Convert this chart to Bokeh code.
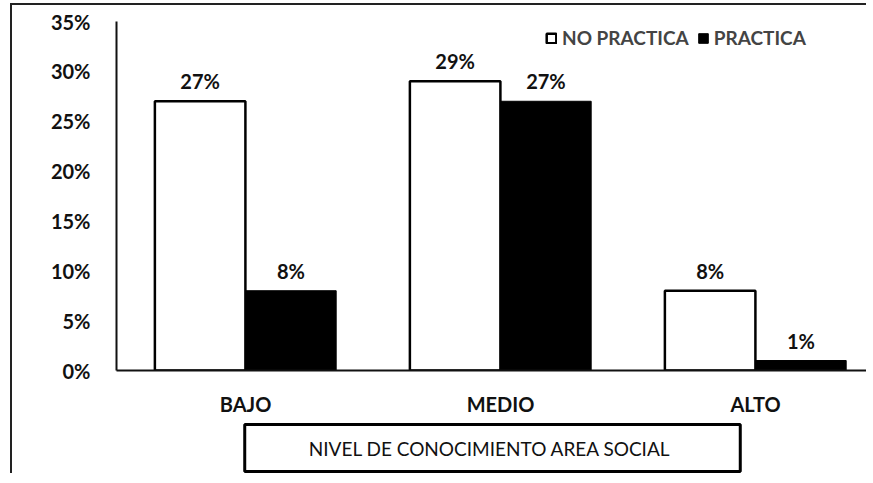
from bokeh.plotting import figure
from bokeh.models import ColumnDataSource, LabelSet, Title, Legend, LegendItem, FixedTicker
from bokeh.transform import dodge
from bokeh.core.properties import value
from bokeh.embed import file_html
from bokeh.resources import INLINE

categories = ["BAJO", "MEDIO", "ALTO"]
no_practica = [0.27, 0.29, 0.08]
practica = [0.08, 0.27, 0.01]
y_ticks = [0, 0.05, 0.10, 0.15, 0.20, 0.25, 0.30, 0.35]
y_tick_labels = ["0%", "5%", "10%", "15%", "20%", "25%", "30%", "35%"]
x_title = "NIVEL  DE CONOCIMIENTO AREA SOCIAL"

FONT = "Lato"

src = ColumnDataSource(dict(
    x=list(range(len(categories))),
    no=no_practica,
    si=practica,
    no_lbl=[f"{round(v*100)}%" for v in no_practica],
    si_lbl=[f"{round(v*100)}%" for v in practica],
))

p = figure(width=856, height=470, output_backend="svg", toolbar_location=None,
           x_range=(-0.506, 2.443), y_range=(0, 0.35),
           min_border_left=104, min_border_right=0, min_border_top=16, min_border_bottom=20,
           background_fill_color="white", border_fill_color="white")
p.margin = (3, 0, 0, 10)
p.styles = {"border-left": "2px solid #222", "border-top": "2px solid #222"}
p.outline_line_color = None
p.grid.visible = False

w = 0.355
r1 = p.vbar(x=dodge("x", -0.178), top="no", width=w, source=src,
            fill_color="white", line_color="black", line_width=2.5)
r2 = p.vbar(x=dodge("x", 0.178), top="si", width=w, source=src,
            fill_color="black", line_color="black", line_width=1)

lbl_font = dict(text_font=value(FONT), text_font_style="bold", text_font_size="20px",
                text_align="center", text_baseline="bottom", text_color="#111")
p.add_layout(LabelSet(x=dodge("x", -0.178), y="no", text="no_lbl", source=src, y_offset=8, **lbl_font))
p.add_layout(LabelSet(x=dodge("x", 0.178), y="si", text="si_lbl", source=src, y_offset=8, **lbl_font))

# axes
p.yaxis.ticker = FixedTicker(ticks=y_ticks)
p.yaxis.major_label_overrides = {t: l for t, l in zip(y_ticks, y_tick_labels)}
p.yaxis.axis_line_width = 2
p.yaxis.axis_line_color = "#111"
p.yaxis.major_tick_line_color = None
p.yaxis.minor_tick_line_color = None
p.yaxis.major_label_standoff = 20
p.yaxis.major_label_text_font = FONT
p.yaxis.major_label_text_font_style = "bold"
p.yaxis.major_label_text_font_size = "20px"
p.yaxis.major_label_text_color = "#111"

p.xaxis.ticker = FixedTicker(ticks=list(range(len(categories))))
p.xaxis.major_label_overrides = {i: c for i, c in enumerate(categories)}
p.xaxis.axis_line_width = 2
p.xaxis.axis_line_color = "#111"
p.xaxis.major_tick_line_color = None
p.xaxis.minor_tick_line_color = None
p.xaxis.major_label_standoff = 15
p.xaxis.major_label_text_font = FONT
p.xaxis.major_label_text_font_style = "bold"
p.xaxis.major_label_text_font_size = "20px"
p.xaxis.major_label_text_color = "#111"

# x axis title in a box, below the axis
p.add_layout(Title(text=x_title, align="center", offset=4, standoff=8,
                   text_font=FONT, text_font_size="19px", text_font_style="normal",
                   text_color="#111",
                   border_line_color="black", border_line_width=3,
                   background_fill_color="white", padding=(64, 12)), "below")

legend = Legend(items=[LegendItem(label="NO PRACTICA", renderers=[r1]),
                       LegendItem(label="PRACTICA", renderers=[r2])],
                orientation="horizontal", location=(429, 321),
                label_text_font=FONT, label_text_font_style="bold", label_text_font_size="19px",
                glyph_width=12, glyph_height=12, spacing=8, label_standoff=5,
                border_line_color=None, background_fill_alpha=0, padding=0, margin=0)
p.add_layout(legend)

open("out.html", "w").write(file_html(p, INLINE))
